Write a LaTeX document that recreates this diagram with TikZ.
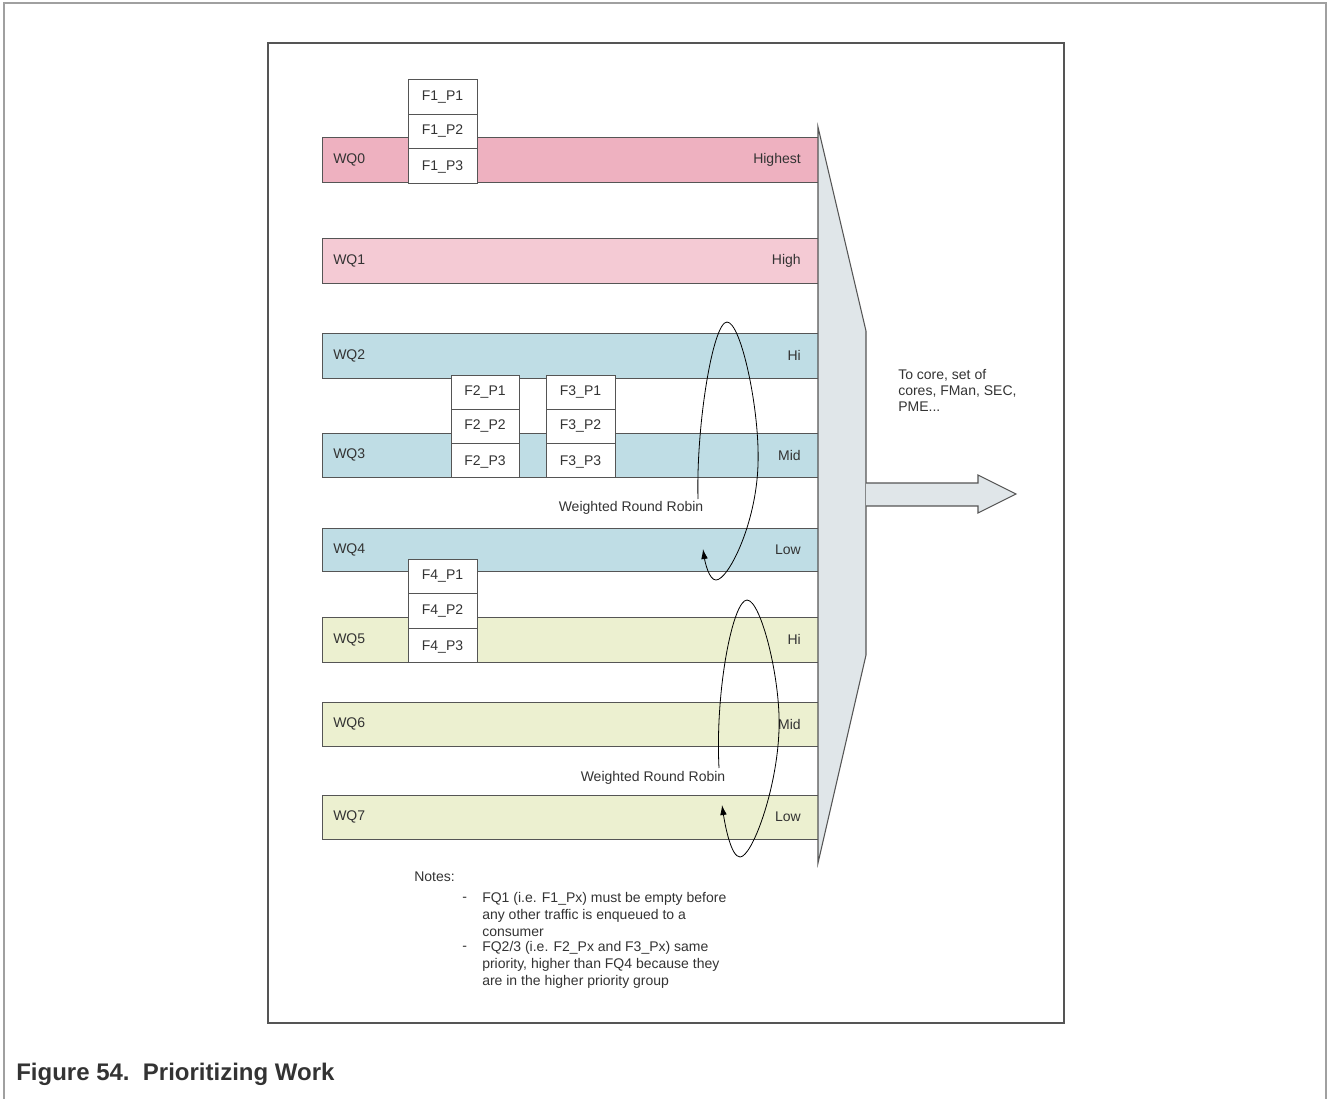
\documentclass[tikz,border=0pt]{standalone}
\usepackage{fontspec}
\setmainfont{Liberation Sans}
\usetikzlibrary{arrows.meta}
\definecolor{txt}{HTML}{333333}
\definecolor{edge}{HTML}{555555}
\definecolor{cA}{HTML}{EEB1C0}
\definecolor{cB}{HTML}{F4CAD4}
\definecolor{cC}{HTML}{BFDDE5}
\definecolor{cD}{HTML}{ECF0D0}
\definecolor{cT}{HTML}{E0E6E9}
\definecolor{frameg}{HTML}{A0A0A0}
\tikzset{
  lbl/.style={font=\fontsize{10.5}{12}\selectfont, text=txt, inner sep=0pt},
  bar/.style={draw=edge, line width=0.75pt},
  fbox/.style={draw=edge, fill=white, line width=0.75pt},
  loop/.style={draw=black, line width=0.6pt},
  tipL/.style={-{Latex[length=7.5pt,width=5pt]}},
}
\begin{document}
\begin{tikzpicture}[x=0.75pt,y=-0.75pt]
\useasboundingbox (0,0) rectangle (1328,1099);
% outer and inner frames
\draw[frameg, line width=1.3pt] (4,1099) -- (4,3) -- (1326,3) -- (1326,1099);
\draw[edge, line width=1pt] (268,43) rectangle (1064,1023);

% queue bars
\foreach \n/\t/\b/\c/\r in {0/137/182/cA/Highest,1/238/283/cB/High,2/333/378/cC/Hi,3/433/477/cC/Mid,4/528/571/cC/Low,5/617/662/cD/Hi,6/702/746/cD/Mid,7/795/839/cD/Low}{
  \draw[bar, fill=\c] (322,\t) rectangle (818,\b);
  \node[lbl, anchor=west] (wq\n) at (333,{(\t+\b)/2}) {WQ\n};
  \node[lbl, anchor=east] (pr\n) at (801,{(\t+\b)/2}) {\r};
}

% frame boxes
\foreach \f/\x/\w/\ya/\yb/\yc/\yd in {1/408/477/80/114/148/183, 2/451/519/375/409/443/477, 3/546/615/375/409/443/477, 4/408/477/559/593/628/662}{
  \draw[fbox] (\x,\ya) rectangle (\w,\yb);
  \draw[fbox] (\x,\yb) rectangle (\w,\yc);
  \draw[fbox] (\x,\yc) rectangle (\w,\yd);
  \node[lbl] (f\f p1) at ({(\x+\w)/2},{(\ya+\yb)/2}) {F\f\_P1};
  \node[lbl] (f\f p2) at ({(\x+\w)/2},{(\yb+\yc)/2}) {F\f\_P2};
  \node[lbl] (f\f p3) at ({(\x+\w)/2},{(\yc+\yd)/2+2}) {F\f\_P3};
}

% scheduler trapezoid
\draw[edge, fill=cT, line width=0.8pt] (818,127) -- (866,331) -- (866,655) -- (818,863) -- cycle;
% output arrow
\draw[edge, fill=cT, line width=0.8pt] (866,483) -- (978,483) -- (978,475) -- (1016,494) -- (978,513) -- (978,506) -- (866,506);
\node[lbl, anchor=north west, align=left, font=\fontsize{10.5}{12}\selectfont] (dest) at (898,369) {To core, set of\\cores, FMan, SEC,\\PME...};

% weighted round robin loops
\node[lbl] (wrr1) at (631,508) {Weighted Round Robin};
\node[lbl] (wrr2) at (653,778) {Weighted Round Robin};
\coordinate (l1s) at (698,499);
\coordinate (l1t) at (703,549);
\coordinate (l2s) at (719,768);
\coordinate (l2t) at (722,805);
\draw[loop, tipL] (l1s) .. controls (696,425) and (713,322) .. (727,322)
  .. controls (741,322) and (760,410) .. (758,465)
  .. controls (756,525) and (728,580) .. (716,580)
  .. controls (709,580) and (705,562) .. (l1t);
\draw[loop, tipL] (l2s) .. controls (715,690) and (733,600) .. (747,600)
  .. controls (761,600) and (781,680) .. (779,730)
  .. controls (777,790) and (752,857) .. (740,857)
  .. controls (731,857) and (725,825) .. (l2t);

% notes
\node[lbl, anchor=west] (notes) at (414,877) {Notes:};
\node[lbl, anchor=west] (b1) at (462,899) {-};
\node[lbl, anchor=north west, align=left, font=\fontsize{10.5}{12.6}\selectfont] (n1) at (482,892) {FQ1 (i.e. F1\_Px) must be empty before\\any other traffic is enqueued to a\\consumer};
\node[lbl, anchor=west] (b2) at (462,948) {-};
\node[lbl, anchor=north west, align=left, font=\fontsize{10.5}{12.6}\selectfont] (n2) at (482,941) {FQ2/3 (i.e. F2\_Px and F3\_Px) same\\priority, higher than FQ4 because they\\are in the higher priority group};

% caption
\node[anchor=base west, inner sep=0pt, text=txt, font=\fontsize{18}{20}\selectfont\bfseries] (cap) at (16,1080) {Figure 54.\ \ Prioritizing Work};
\end{tikzpicture}
\end{document}
